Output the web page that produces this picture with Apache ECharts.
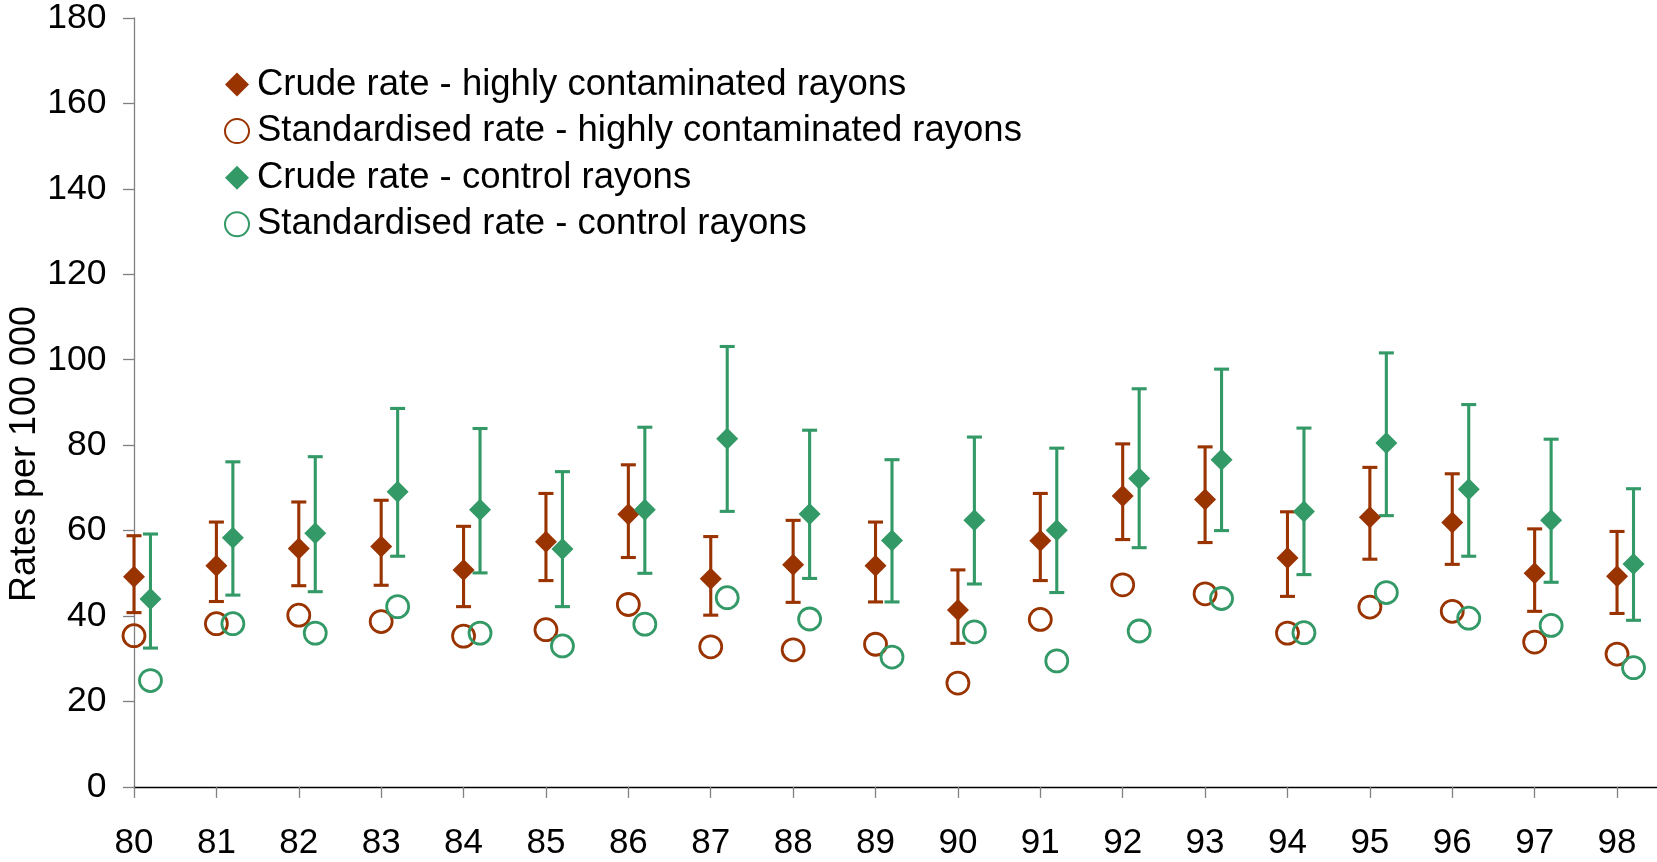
<!DOCTYPE html>
<html>
<head>
<meta charset="utf-8">
<script src="https://cdn.jsdelivr.net/npm/echarts@6/dist/echarts.min.js"></script>
<style>
html,body{margin:0;padding:0;background:#fff;}
#chart{width:1657px;height:862px;}
</style>
</head>
<body>
<div id="chart"></div>
<script>
// ---- data ----
var years = [80,81,82,83,84,85,86,87,88,89,90,91,92,93,94,95,96,97,98];
var yTicks = [0,20,40,60,80,100,120,140,160,180];

var crudeHigh   = [49.2,51.8,55.8,56.3,50.8,57.4,63.8,48.7,52.0,51.8,41.4,57.6,68.1,67.3,53.6,63.1,61.9,50.0,49.3];
var crudeHighLo = [40.8,43.4,47.1,47.2,42.2,48.3,53.7,40.2,43.2,43.3,33.6,48.3,57.9,57.2,44.6,53.3,52.1,41.1,40.6];
var crudeHighHi = [58.8,62.0,66.7,67.1,61.0,68.7,75.4,58.6,62.4,62.0,50.8,68.7,80.3,79.6,64.4,74.8,73.3,60.4,59.8];
var stdHigh     = [35.4,38.2,40.2,38.7,35.3,36.8,42.7,32.8,32.1,33.4,24.3,39.2,47.3,45.2,36.0,42.1,41.1,33.9,31.1];

var crudeCtrl   = [44.0,58.3,59.4,69.1,64.9,55.7,64.9,81.5,63.9,57.7,62.4,60.1,72.2,76.6,64.5,80.5,69.7,62.4,52.2];
var crudeCtrlLo = [32.5,44.9,45.7,54.0,50.1,42.2,50.0,64.5,48.8,43.3,47.5,45.5,56.0,60.0,49.7,63.5,54.0,47.9,39.0];
var crudeCtrlHi = [59.2,76.1,77.3,88.6,83.9,73.8,84.2,103.1,83.5,76.6,81.9,79.3,93.2,97.8,84.0,101.6,89.5,81.4,69.8];
var stdCtrl     = [24.9,38.2,36.0,42.2,36.0,33.0,38.1,44.3,39.3,30.4,36.3,29.5,36.5,44.1,36.1,45.5,39.5,37.8,27.9];

var seriesNames = [
  'Crude rate - highly contaminated rayons',
  'Standardised rate - highly contaminated rayons',
  'Crude rate - control rayons',
  'Standardised rate - control rayons'
];

// ---- styling / layout ----
var RED = '#993300';
var GREEN = '#339966';
var CTRL_OFFSET = 0.2;
var FONT = '"Liberation Sans", Arial, sans-serif';

function pts(vals, off) {
  return years.map(function (y, i) { return [y + off, vals[i]]; });
}
function bars(lo, hi, off) {
  return years.map(function (y, i) { return [y + off, lo[i], hi[i]]; });
}
function errRender(color) {
  return function (params, api) {
    var x = api.value(0);
    var p1 = api.coord([x, api.value(1)]);
    var p2 = api.coord([x, api.value(2)]);
    var hw = 7.5;
    var st = { stroke: color, lineWidth: 3.1 };
    return {
      type: 'group',
      children: [
        { type: 'line', shape: { x1: p1[0], y1: p1[1], x2: p2[0], y2: p2[1] }, style: st },
        { type: 'line', shape: { x1: p1[0] - hw, y1: p1[1], x2: p1[0] + hw, y2: p1[1] }, style: st },
        { type: 'line', shape: { x1: p2[0] - hw, y1: p2[1], x2: p2[0] + hw, y2: p2[1] }, style: st }
      ]
    };
  };
}

var chart = echarts.init(document.getElementById('chart'), null, { renderer: 'canvas' });
chart.setOption({
  animation: false,
  backgroundColor: '#fff',
  textStyle: { fontFamily: FONT },
  grid: { left: 134, top: 17.8, right: 0, bottom: 75.1, containLabel: false },
  legend: {
    orient: 'vertical',
    left: 219,
    top: 61,
    itemWidth: 24,
    itemHeight: 24,
    itemGap: 9.6,
    selectedMode: false,
    data: seriesNames,
    textStyle: { fontFamily: FONT, fontSize: 36.5, lineHeight: 36, color: '#000', padding: [0, 0, 0, 3] }
  },
  xAxis: {
    type: 'value',
    min: 80,
    max: 98.485,
    axisLine: { show: true, onZero: false, lineStyle: { color: '#000', width: 1.3 } },
    axisTick: { show: true, length: 11, customValues: years, lineStyle: { color: '#808080', width: 1.3 } },
    axisLabel: { customValues: years, fontFamily: FONT, fontSize: 35, color: '#000', margin: 39 },
    splitLine: { show: false }
  },
  yAxis: {
    type: 'value',
    min: 0,
    max: 180,
    interval: 20,
    axisLine: { show: true, lineStyle: { color: '#808080', width: 1.3 } },
    axisTick: { show: true, length: 11, lineStyle: { color: '#808080', width: 1.3 } },
    axisLabel: { fontFamily: FONT, fontSize: 35.5, color: '#000', margin: 27.5, padding: [4, 0, 0, 0] },
    splitLine: { show: false }
  },
  graphic: [{
    type: 'text',
    x: 25,
    y: 454,
    rotation: Math.PI / 2,
    style: {
      text: 'Rates per 100 000',
      fontFamily: FONT,
      fontSize: 36,
      fill: '#000',
      align: 'center',
      verticalAlign: 'middle'
    }
  }],
  series: [
    { type: 'custom', name: 'errHigh', renderItem: errRender(RED), data: bars(crudeHighLo, crudeHighHi, 0),
      encode: { x: 0, y: [1, 2] }, silent: true, z: 1 },
    { type: 'custom', name: 'errCtrl', renderItem: errRender(GREEN), data: bars(crudeCtrlLo, crudeCtrlHi, CTRL_OFFSET),
      encode: { x: 0, y: [1, 2] }, silent: true, z: 1 },
    { type: 'scatter', name: seriesNames[0], symbol: 'diamond', symbolSize: 22,
      itemStyle: { color: RED, opacity: 1 }, data: pts(crudeHigh, 0), z: 3, emphasis: { disabled: true } },
    { type: 'scatter', name: seriesNames[1], symbol: 'circle', symbolSize: 22,
      itemStyle: { color: 'rgba(0,0,0,0)', borderColor: RED, borderWidth: 2.8, opacity: 1 }, data: pts(stdHigh, 0), z: 3, emphasis: { disabled: true } },
    { type: 'scatter', name: seriesNames[2], symbol: 'diamond', symbolSize: 22,
      itemStyle: { color: GREEN, opacity: 1 }, data: pts(crudeCtrl, CTRL_OFFSET), z: 3, emphasis: { disabled: true } },
    { type: 'scatter', name: seriesNames[3], symbol: 'circle', symbolSize: 22,
      itemStyle: { color: 'rgba(0,0,0,0)', borderColor: GREEN, borderWidth: 2.8, opacity: 1 }, data: pts(stdCtrl, CTRL_OFFSET), z: 3, emphasis: { disabled: true } }
  ]
});
</script>
</body>
</html>
